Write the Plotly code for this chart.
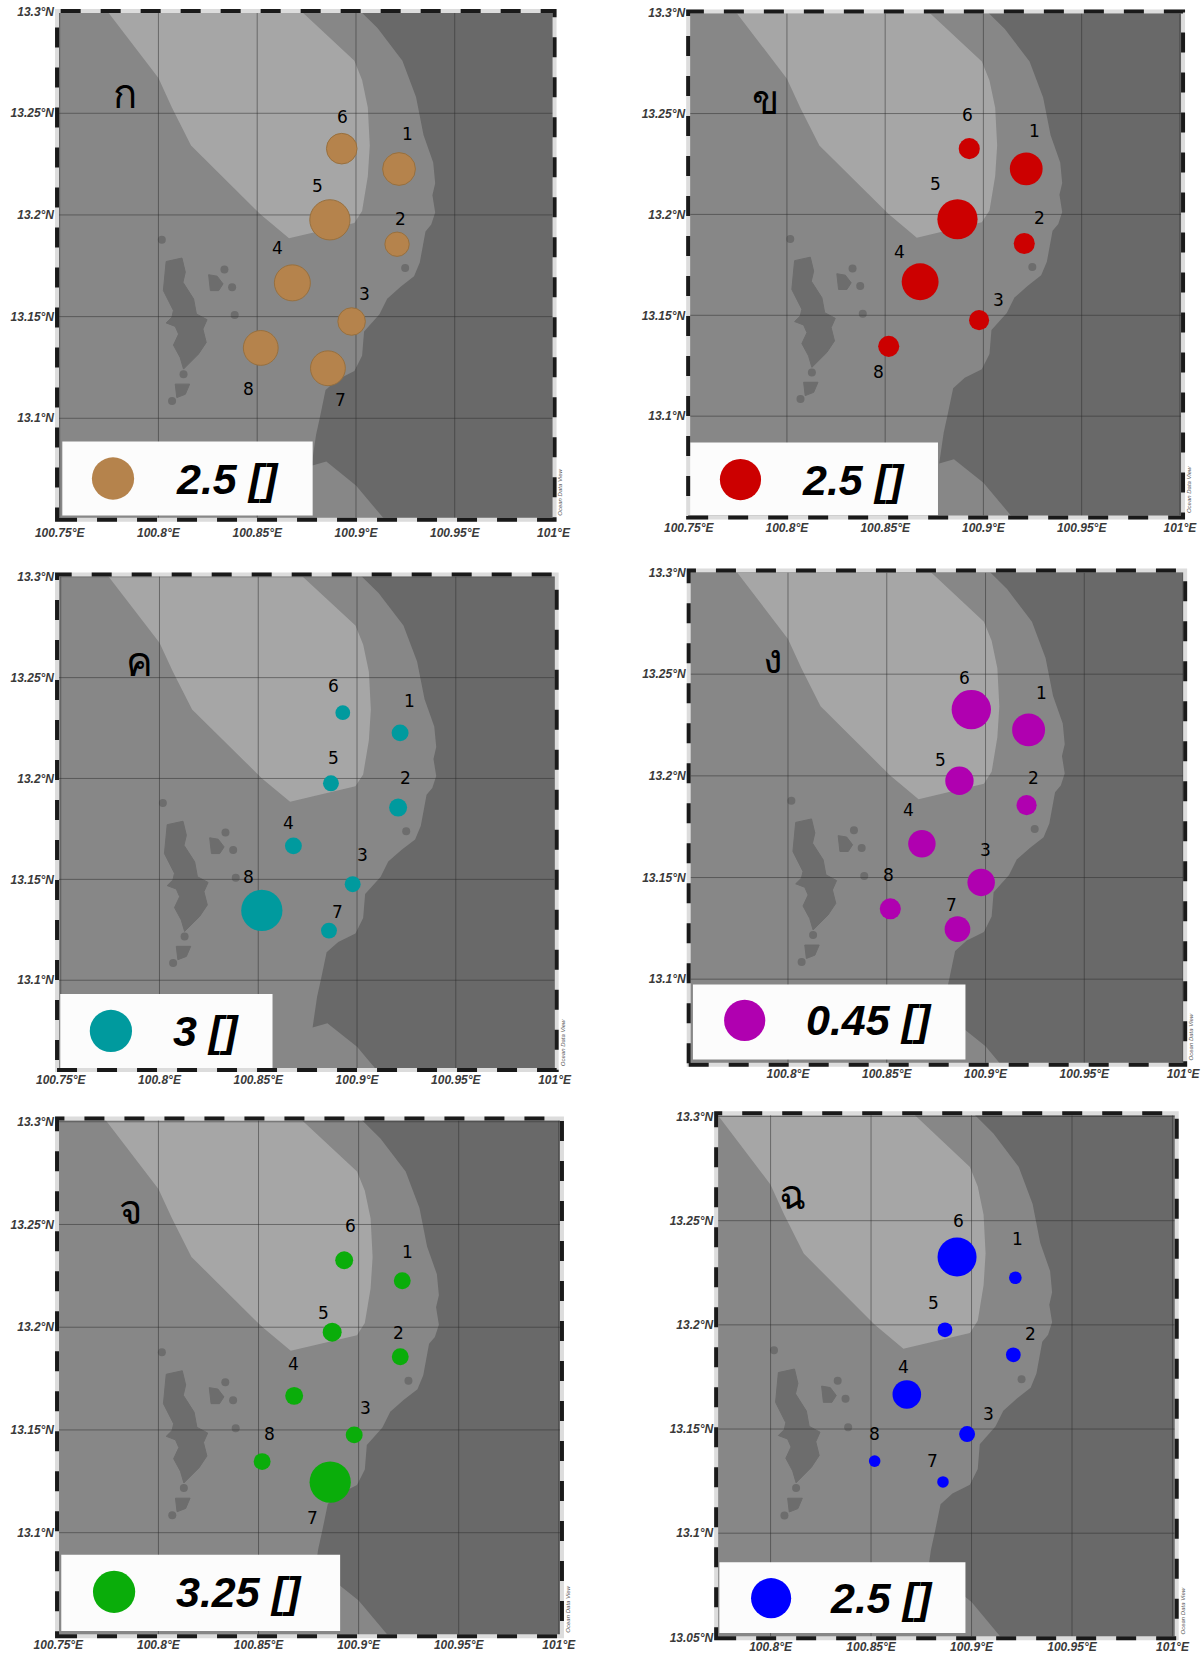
import plotly.graph_objects as go

# ---------- data ----------
station_names = ["1", "2", "3", "4", "5", "6", "7", "8"]
station_lon = [100.9218, 100.9208, 100.8978, 100.8678, 100.8868, 100.8928, 100.8858, 100.8518]
station_lat = [13.2226, 13.1856, 13.1476, 13.1666, 13.1976, 13.2326, 13.1246, 13.1346]

panel_letters = ["ก", "ข", "ค", "ง", "จ", "ฉ"]
legend_values = [2.5, 2.5, 3, 0.45, 3.25, 2.5]
legend_texts = ["2.5 []", "2.5 []", "3 []", "0.45 []", "3.25 []", "2.5 []"]
colors = ["#b5834c", "#cc0000", "#009a9e", "#b000b0", "#0aad0a", "#0000ff"]

values_a = [1.94, 1.44, 1.63, 2.13, 2.38, 1.81, 2.06, 2.06]
values_b = [1.99, 1.28, 1.22, 2.24, 2.44, 1.28, None, 1.28]
values_c = [1.20, 1.28, 1.13, 1.20, 1.13, 1.05, 1.13, 2.93]
values_d = [0.36, 0.22, 0.30, 0.30, 0.31, 0.43, 0.28, 0.23]
values_e = [1.30, 1.30, 1.30, 1.38, 1.46, 1.38, 3.17, 1.30]
values_f = [0.79, 0.92, 0.99, 1.78, 0.92, 2.43, 0.72, 0.72]
all_values = [values_a, values_b, values_c, values_d, values_e, values_f]

dark_lon = [100.9012, 100.9012, 100.9109, 100.9235, 100.9304, 100.9342, 100.9391, 100.9401, 100.9387, 100.9401, 100.9381,
            100.9352, 100.9323, 100.9294, 100.9226, 100.9158, 100.9119, 100.9041, 100.9031, 100.8992, 100.8905,
            100.8846, 100.8817, 100.8798, 100.8775, 100.8850, 100.9000, 100.9144, 100.92, 101.02, 101.02, 100.9012]
dark_lat = [13.31, 13.3012, 13.2919, 13.2758, 13.2580, 13.2393, 13.2258, 13.2156, 13.2097, 13.2012, 13.1953,
            13.1919, 13.1766, 13.1698, 13.1647, 13.1588, 13.1512, 13.1427, 13.1308, 13.1232, 13.1190,
            13.1139, 13.1003, 13.0919, 13.0766, 13.0787, 13.0670, 13.0503, 13.04, 13.04, 13.31, 13.31]

light_lon = [100.7664, 100.8, 100.8068, 100.8165, 100.8516, 100.8661, 100.8992, 100.9031, 100.9060, 100.9070,
             100.9060, 100.9031, 100.8992, 100.8615]
light_lat = [13.31, 13.2673, 13.2529, 13.2342, 13.2003, 13.1885, 13.1961, 13.2020, 13.2190, 13.2342,
             13.2529, 13.2664, 13.2758, 13.31]

island_lon = [100.8039, 100.8119, 100.8136, 100.8124, 100.8178, 100.8192, 100.8246, 100.8225, 100.8242, 100.8203,
              100.8127, 100.8110, 100.8076, 100.8102, 100.8085, 100.8039, 100.8068, 100.8076, 100.8025, 100.8034]
island_lat = [13.1771, 13.1788, 13.1719, 13.1669, 13.1587, 13.1513, 13.1485, 13.1439, 13.1373, 13.1316,
              13.1242, 13.1299, 13.1360, 13.1414, 13.1452, 13.1469, 13.1497, 13.1530, 13.1628, 13.1702]
islet_b_lon = [100.8254, 100.8297, 100.8327, 100.8305, 100.8263]
islet_b_lat = [13.1706, 13.1699, 13.1661, 13.1628, 13.1628]
islet_c_lon = [100.8085, 100.8158, 100.8136, 100.8093]
islet_c_lat = [13.1168, 13.1168, 13.1118, 13.1102]
islet_dot_lon = [100.8017, 100.8334, 100.8373, 100.8386, 100.9249, 100.8127, 100.8069]
islet_dot_lat = [13.1878, 13.1732, 13.1645, 13.1508, 13.1739, 13.1217, 13.1085]

x_tick_values = [100.75, 100.8, 100.85, 100.9, 100.95, 101]
y_tick_values = [13.05, 13.1, 13.15, 13.2, 13.25, 13.3]
x_tick_shown = [[0, 1, 2, 3, 4, 5], [0, 1, 2, 3, 4, 5], [0, 1, 2, 3, 4, 5], [1, 2, 3, 4, 5], [0, 1, 2, 3, 4, 5], [1, 2, 3, 4, 5]]
y_tick_shown = [[0, 1, 2, 3, 4, 5], [1, 2, 3, 4, 5], [1, 2, 3, 4, 5], [1, 2, 3, 4, 5], [1, 2, 3, 4, 5], [0, 1, 2, 3, 4, 5]]

# ---------- layout of the picture (pixels of the 1137-wide view) ----------
S = 1201 / 1137
W, H = 1201, 1656
# left, right, top, bottom, px of 100.8, px of 101, px of 13.3, px of 13.1
frames = [
    (54, 525, 10.5, 492, 150, 524, 11, 396),
    (651.5, 1120, 11, 490, 745, 1117, 12, 394),
    (54, 527, 544, 1013, 151, 525, 546, 928),
    (652, 1122, 540, 1008, 746, 1120, 542, 927),
    (54, 532, 1059, 1549, 150, 529, 1062, 1451),
    (678, 1114, 1054, 1551, 729.5, 1110, 1057, 1451.5),
]
x_label_standoff = [4, 1, 1, 0, 0, 0]
legend_boxes = [
    (59, 296, 418, 488, 107, 453, 40, 165),
    (653, 888, 419, 488, 701, 454, 39, 757),
    (57, 258, 941, 1012, 105, 976, 40, 162),
    (656, 914, 932, 1003, 705, 966, 39, 761),
    (58, 322, 1472, 1544, 108, 1507, 40, 165),
    (681, 914, 1479, 1546, 730, 1513, 38, 784),
]
letter_pos = [(118, 88), (725, 93), (132, 625), (732, 622), (124, 1144), (750, 1130)]
label_offsets = [
    [(8, -33), (3, -24), (12, -26), (-14, -33), (-12, -32), (1, -30), (12, 30), (-12, 39)],
    [(8, -36), (14, -24), (18, -19), (-20, -28), (-21, -33), (-2, -32), (0, 0), (-10, 24)],
    [(9, -30), (7, -28), (9, -28), (-5, -22), (2, -24), (-9, -25), (8, -18), (-13, -32)],
    [(12, -35), (7, -26), (4, -31), (-13, -32), (-18, -20), (-6, -30), (-6, -23), (-2, -32)],
    [(5, -27), (-2, -23), (11, -25), (-1, -30), (-8, -18), (6, -32), (-17, 34), (7, -26)],
    [(2, -37), (16, -20), (20, -19), (-3, -26), (-11, -25), (1, -34), (-10, -20), (0, -26)],
]

BG = "#878787"
DARK = "#696969"
LIGHT = "#a6a6a6"
ISLAND = "#6d6d6d"
GRID = "rgba(45,45,45,0.5)"
TICK_FONT = dict(family="Liberation Sans", size=12, color="#3a3a3a", weight="bold", style="italic")

fig = go.Figure()
shapes, annotations, layout_axes = [], [], {}

for i, frame in enumerate(frames):
    left, right, top, bottom, x08, x10, y133, y131 = frame
    xaxis, yaxis = f"x{i + 1}" if i else "x", f"y{i + 1}" if i else "y"
    lon_per_px = 0.2 / (x10 - x08)
    lat_per_px = 0.2 / (y131 - y133)
    to_lon = lambda px: 100.8 + (px - x08) * lon_per_px
    to_lat = lambda py: 13.3 - (py - y133) * lat_per_px
    xr = [to_lon(left), to_lon(right)]
    yr = [to_lat(bottom), to_lat(top)]

    def add_fill(lon, lat, color, width=0):
        fig.add_trace(go.Scatter(x=lon, y=lat, mode="lines", fill="toself", fillcolor=color,
                                 line=dict(width=width, color=color), hoverinfo="skip",
                                 showlegend=False, xaxis=xaxis, yaxis=yaxis))

    add_fill(dark_lon, dark_lat, DARK)
    add_fill(light_lon, light_lat, LIGHT)
    add_fill(island_lon + island_lon[:1], island_lat + island_lat[:1], ISLAND, 1)
    add_fill(islet_b_lon + islet_b_lon[:1], islet_b_lat + islet_b_lat[:1], ISLAND, 1)
    add_fill(islet_c_lon + islet_c_lon[:1], islet_c_lat + islet_c_lat[:1], ISLAND, 1)
    fig.add_trace(go.Scatter(x=islet_dot_lon, y=islet_dot_lat, mode="markers",
                             marker=dict(size=8, color=ISLAND), hoverinfo="skip",
                             showlegend=False, xaxis=xaxis, yaxis=yaxis))

    # grid lines sit over the shaded regions, under the circles
    gx, gy = [], []
    for v in x_tick_values:
        if xr[0] <= v <= xr[1]:
            gx += [v, v, None]
            gy += [yr[0], yr[1], None]
    for v in y_tick_values:
        if yr[0] <= v <= yr[1]:
            gx += [xr[0], xr[1], None]
            gy += [v, v, None]
    fig.add_trace(go.Scatter(x=gx, y=gy, mode="lines", line=dict(color=GRID, width=1),
                             hoverinfo="skip", showlegend=False, xaxis=xaxis, yaxis=yaxis))

    # legend box + circle
    bl, br, bt, bb, cx, cy, cd, tx = legend_boxes[i]
    add_fill([to_lon(bl), to_lon(br), to_lon(br), to_lon(bl)],
             [to_lat(bt), to_lat(bt), to_lat(bb), to_lat(bb)], "#fcfcfc")
    fig.add_trace(go.Scatter(x=[to_lon(cx)], y=[to_lat(cy)], mode="markers",
                             marker=dict(size=cd * S, color=colors[i], opacity=1), hoverinfo="skip",
                             showlegend=False, xaxis=xaxis, yaxis=yaxis))
    annotations.append(dict(x=to_lon(tx), y=to_lat(cy), xref=xaxis, yref=yaxis, xanchor="left", yanchor="middle",
                            text=legend_texts[i], showarrow=False,
                            font=dict(family="Liberation Sans", size=43, color="#000000", weight="bold", style="italic")))

    # stations
    vals = all_values[i]
    px_per_value = cd * S / legend_values[i]
    keep = [k for k, v in enumerate(vals) if v is not None]
    fig.add_trace(go.Scatter(x=[station_lon[k] for k in keep], y=[station_lat[k] for k in keep],
                             mode="markers",
                             marker=dict(size=[vals[k] for k in keep], sizemode="diameter", sizeref=1 / px_per_value,
                                         color=colors[i], opacity=1, line=dict(width=1 if i == 0 else 0, color="#97703f")),
                             showlegend=False, xaxis=xaxis, yaxis=yaxis,
                             hovertemplate="%{x}, %{y}<extra></extra>"))
    for k in keep:
        dx, dy = label_offsets[i][k]
        annotations.append(dict(x=station_lon[k], y=station_lat[k], xref=xaxis, yref=yaxis,
                                xshift=dx * S, yshift=-dy * S, text=station_names[k], showarrow=False,
                                font=dict(family="DejaVu Sans", size=17, color="#000000")))

    # panel letter
    lx, ly = letter_pos[i]
    annotations.append(dict(x=to_lon(lx), y=to_lat(ly), xref=xaxis, yref=yaxis, text=panel_letters[i], showarrow=False,
                            font=dict(family="Noto Sans, DejaVu Sans", size=40, color="#000000")))
    # credit
    annotations.append(dict(x=1.0, y=0.0, xref=f"{xaxis} domain", yref=f"{yaxis} domain", xanchor="left", yanchor="bottom",
                            xshift=1, yshift=2, text="Ocean Data View", textangle=-90, showarrow=False,
                            font=dict(family="Liberation Sans", size=6, color="#555555", style="italic")))

    layout_axes["xaxis" + (str(i + 1) if i else "")] = dict(
        domain=[left * S / W, right * S / W], range=xr, anchor=yaxis, showgrid=False, zeroline=False, showline=False,
        automargin=False, tickmode="array", tickvals=[x_tick_values[t] for t in x_tick_shown[i]],
        ticktext=[f"{x_tick_values[t]:g}°E" for t in x_tick_shown[i]], ticks="", tickfont=TICK_FONT, tickangle=0,
        ticklabelstandoff=x_label_standoff[i])
    layout_axes["yaxis" + (str(i + 1) if i else "")] = dict(
        domain=[1 - bottom * S / H, 1 - top * S / H], range=yr, anchor=xaxis, showgrid=False, zeroline=False, showline=False,
        automargin=False, tickmode="array", tickvals=[y_tick_values[t] for t in y_tick_shown[i]],
        ticktext=[f"{y_tick_values[t]:g}°N" for t in y_tick_shown[i]], ticks="", tickfont=TICK_FONT,
        ticklabelstandoff=2)

    # dashed neatline
    for color, dash, width in [("#dcdcdc", "solid", 4), ("#1a1a1a", "20px,20px", 4)]:
        shapes.append(dict(type="rect", xref=f"{xaxis} domain", yref=f"{yaxis} domain", x0=0, x1=1, y0=0, y1=1,
                           line=dict(color=color, width=width, dash=dash), layer="above"))

fig.update_layout(width=W, height=H, margin=dict(l=0, r=0, t=0, b=0), paper_bgcolor="#ffffff", plot_bgcolor=BG,
                  showlegend=False, shapes=shapes, annotations=annotations, **layout_axes)
fig.write_html("out.html", config=dict(displayModeBar=False),
               post_script="document.body.style.margin='0';document.documentElement.style.overflow='hidden';")
